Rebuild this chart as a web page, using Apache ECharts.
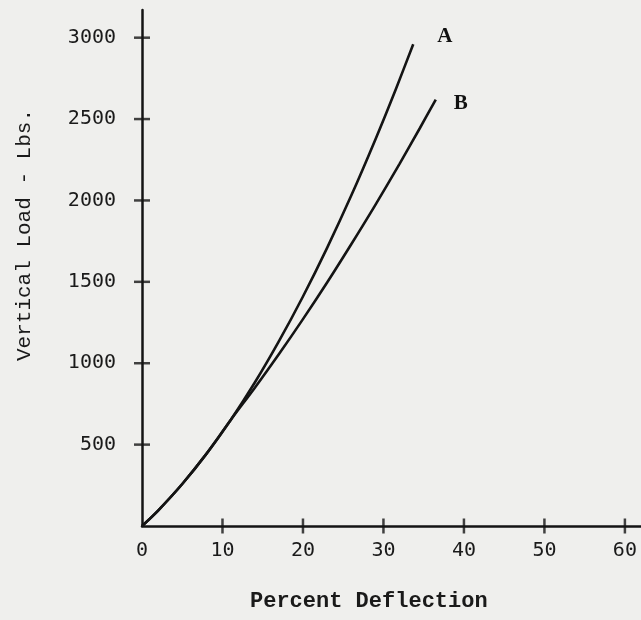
<!DOCTYPE html>
<html>
<head>
<meta charset="utf-8">
<script src="https://cdn.jsdelivr.net/npm/echarts@6/dist/echarts.min.js"></script>
<style>
html,body{margin:0;padding:0;background:#efefed;}
#c{width:641px;height:620px;}
</style>
</head>
<body>
<div id="c"></div>
<script>
// Data
var deflA = [0, 2, 5, 8, 11, 14, 17, 20, 23, 26, 29, 31.5, 33.7];
var loadA = [0, 95, 258, 443, 650, 880, 1134, 1410, 1709, 2030, 2375, 2679, 2960];
var deflB = [0, 2, 5, 8, 11, 14, 17, 20, 23, 26, 29, 32, 34.5, 36.5];
var loadB = [0, 95, 258, 443, 650, 848, 1055, 1271, 1496, 1731, 1973, 2225, 2442, 2620];
var xTicks = [0, 10, 20, 30, 40, 50, 60];
var yTicks = [500, 1000, 1500, 2000, 2500, 3000];
var seriesNames = ['A', 'B'];
var xTitle = 'Percent Deflection';
var yTitle = 'Vertical Load - Lbs.';

function pairs(xs, ys) { return xs.map(function (x, i) { return [x, ys[i]]; }); }
function plain(v) { return String(v); }

var ink = '#141414';
var chart = echarts.init(document.getElementById('c'), null, {renderer: 'canvas'});
chart.setOption({
  backgroundColor: '#efefed',
  animation: false,
  grid: {left: 142, right: 0, top: 10, bottom: 94, containLabel: false},
  xAxis: {
    type: 'value', min: 0, max: 62, splitLine: {show: false},
    axisLine: {show: true, onZero: false, lineStyle: {color: ink, width: 2.5}},
    axisTick: {show: false},
    axisLabel: {show: true, customValues: xTicks, margin: 15, color: '#1a1a1a', formatter: plain,
      fontFamily: 'DejaVu Sans Mono', fontSize: 20}
  },
  yAxis: {
    type: 'value', min: 0, max: 3170, splitLine: {show: false},
    axisLine: {show: true, onZero: false, lineStyle: {color: ink, width: 2.5}},
    axisTick: {show: false},
    axisLabel: {show: true, customValues: yTicks, margin: 26, color: '#1a1a1a', formatter: plain,
      fontFamily: 'DejaVu Sans Mono', fontSize: 20}
  },
  series: [
    {
      name: 'xticks', type: 'scatter', silent: true, clip: false,
      data: xTicks.slice(1).map(function (v) { return [v, 0]; }),
      symbol: 'rect', symbolSize: [2.5, 15], itemStyle: {color: ink}, z: 3
    },
    {
      name: 'yticks', type: 'scatter', silent: true, clip: false,
      data: yTicks.map(function (v) { return [0, v]; }),
      symbol: 'rect', symbolSize: [16, 2.5], itemStyle: {color: ink}, z: 3
    },
    {
      name: seriesNames[0], type: 'line', smooth: 0.3, showSymbol: false,
      data: pairs(deflA, loadA),
      lineStyle: {color: ink, width: 2.6},
      endLabel: {show: true, formatter: seriesNames[0], offset: [16, -8], color: '#111',
        fontFamily: 'Liberation Serif', fontSize: 21, fontWeight: 'bold'}
    },
    {
      name: seriesNames[1], type: 'line', smooth: 0.3, showSymbol: false,
      data: pairs(deflB, loadB),
      lineStyle: {color: ink, width: 2.6},
      endLabel: {show: true, formatter: seriesNames[1], offset: [10, 4], color: '#111',
        fontFamily: 'Liberation Serif', fontSize: 21, fontWeight: 'bold'}
    }
  ],
  graphic: [
    {type: 'text', left: 250, top: 590,
      style: {text: xTitle, font: 'bold 22px "Liberation Mono"', fill: '#1a1a1a'}},
    {type: 'text', x: 24, y: 235, rotation: Math.PI / 2,
      style: {text: yTitle, font: '21px "Liberation Mono"', fill: '#1a1a1a',
        textAlign: 'center', textVerticalAlign: 'middle'}}
  ]
});
</script>
</body>
</html>
